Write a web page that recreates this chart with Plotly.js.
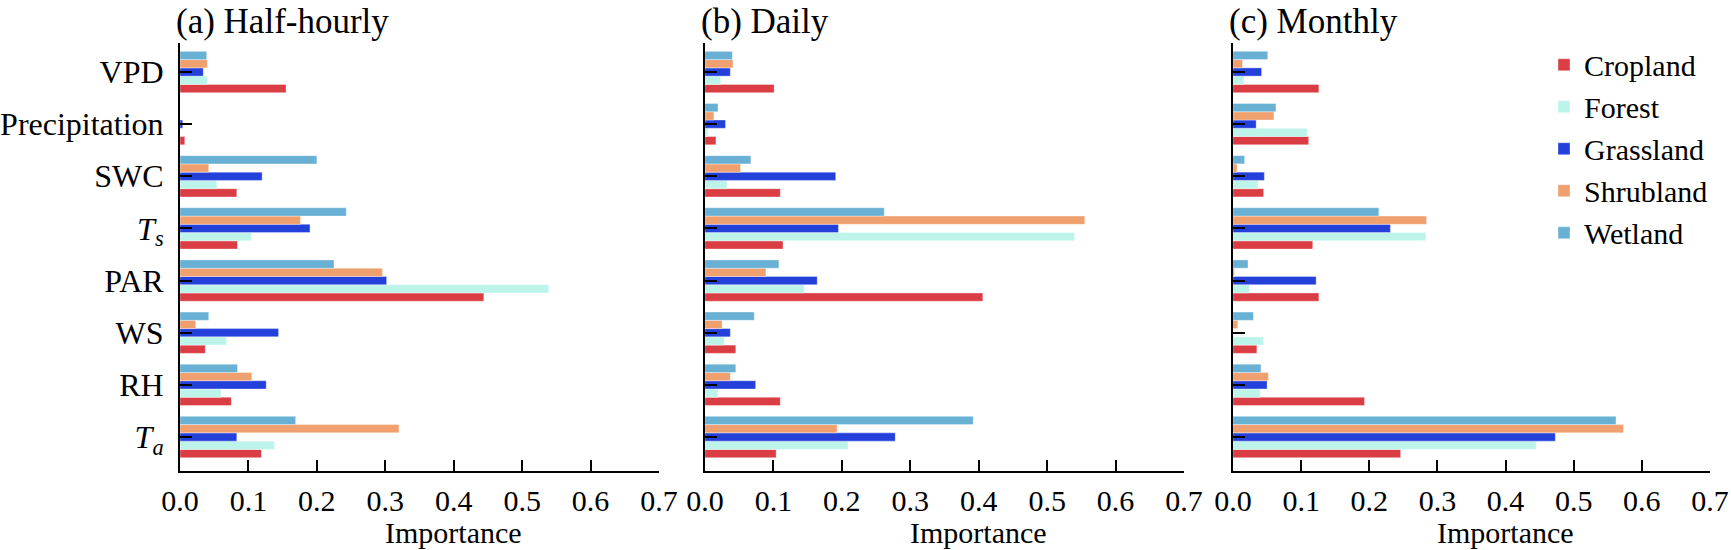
<!DOCTYPE html>
<html>
<head>
<meta charset="utf-8">
<script src="https://cdn.plot.ly/plotly-3.0.1.min.js"></script>
<style>
  html, body { margin: 0; padding: 0; background: #fff; }
  #chart { width: 1731px; height: 550px; }
</style>
</head>
<body>
<div id="chart"></div>
<script>
/* ── Data (categories bottom → top) ───────────────────────── */
const categories = ['Ta', 'RH', 'WS', 'PAR', 'Ts', 'SWC', 'Precipitation', 'VPD'];
const tickLabels = ['<i>T<sub>a</sub></i>', 'RH', 'WS', 'PAR', '<i>T<sub>s</sub></i>', 'SWC', 'Precipitation', 'VPD'];

const seriesNames  = ['Cropland', 'Forest', 'Grassland', 'Shrubland', 'Wetland'];
const seriesColors = ['#DB3D44', '#BDF4EA', '#2340DB', '#F0A06E', '#68B0D4'];

const panelTitles = ['(a) Half-hourly', '(b) Daily', '(c) Monthly'];

// (a) Half-hourly
const halfHourly = {
  Cropland:  [0.119, 0.075, 0.037, 0.444, 0.084, 0.083, 0.007, 0.155],
  Forest:    [0.138, 0.060, 0.068, 0.539, 0.104, 0.054, 0.000, 0.040],
  Grassland: [0.083, 0.126, 0.144, 0.302, 0.190, 0.120, 0.004, 0.034],
  Shrubland: [0.320, 0.105, 0.023, 0.296, 0.176, 0.042, 0.000, 0.040],
  Wetland:   [0.169, 0.084, 0.042, 0.225, 0.243, 0.200, 0.000, 0.039]
};
// (b) Daily
const daily = {
  Cropland:  [0.104, 0.110, 0.045, 0.406, 0.114, 0.110, 0.016, 0.101],
  Forest:    [0.209, 0.019, 0.028, 0.145, 0.540, 0.032, 0.004, 0.023],
  Grassland: [0.278, 0.074, 0.037, 0.164, 0.195, 0.191, 0.030, 0.037],
  Shrubland: [0.193, 0.037, 0.025, 0.089, 0.555, 0.052, 0.013, 0.041],
  Wetland:   [0.392, 0.045, 0.072, 0.108, 0.262, 0.067, 0.019, 0.040]
};
// (c) Monthly
const monthly = {
  Cropland:  [0.246, 0.193, 0.035, 0.126, 0.117, 0.045, 0.111, 0.126],
  Forest:    [0.445, 0.040, 0.045, 0.024, 0.283, 0.037, 0.109, 0.016],
  Grassland: [0.473, 0.050, 0.000, 0.122, 0.231, 0.046, 0.034, 0.042],
  Shrubland: [0.573, 0.052, 0.007, 0.002, 0.284, 0.006, 0.060, 0.014],
  Wetland:   [0.562, 0.041, 0.030, 0.022, 0.214, 0.017, 0.063, 0.051]
};
const panels = [halfHourly, daily, monthly];

/* ── Layout constants ─────────────────────────────────────── */
const W = 1731, H = 550;
const FONT = 'Liberation Serif, "Times New Roman", Times, serif';
const X_DOMAINS = [[180 / W, 659 / W], [705 / W, 1184 / W], [1233 / W, 1710 / W]];

function xAxis(i) {
  return {
    domain: X_DOMAINS[i], anchor: i ? 'y' + (i + 1) : 'y',
    range: [0, 0.7], tick0: 0, dtick: 0.1, tickformat: '.1f',
    ticks: 'inside', ticklen: 11, tickwidth: 2, tickcolor: '#000',
    ticklabelstandoff: 2,
    showline: true, linewidth: 2, linecolor: '#000',
    showgrid: false, zeroline: false,
    tickfont: { size: 30, color: '#000' },
    fixedrange: true
  };
}
function yAxis(i) {
  return {
    domain: [0, 1], anchor: i ? 'x' + (i + 1) : 'x',
    type: 'category', categoryorder: 'array', categoryarray: categories,
    range: [-0.652, 7.556],
    tickmode: 'array', tickvals: categories, ticktext: tickLabels,
    showticklabels: i === 0, ticklabelstandoff: 8,
    ticks: 'inside', ticklen: 12, tickwidth: 2, tickcolor: '#000',
    showline: true, linewidth: 2, linecolor: '#000',
    showgrid: false, zeroline: false,
    tickfont: { size: 32, color: '#000' },
    fixedrange: true
  };
}

/* ── Traces ───────────────────────────────────────────────── */
const traces = [];
panels.forEach((panel, i) => {
  seriesNames.forEach((name, k) => {
    traces.push({
      type: 'bar', orientation: 'h',
      x: panel[name], y: categories,
      name: name, legendgroup: name, showlegend: i === 2,
      xaxis: i ? 'x' + (i + 1) : 'x', yaxis: i ? 'y' + (i + 1) : 'y',
      marker: { color: seriesColors[k], line: { width: 0.6, color: 'rgba(255,255,255,0.6)' } },
      hovertemplate: `${name}<br>%{y}: %{x:.3f}<extra></extra>`
    });
  });
});

/* ── Panel titles and x-axis titles as annotations ────────── */
const annotations = [];
panelTitles.forEach((t, i) => {
  const [d0, d1] = X_DOMAINS[i];
  annotations.push({
    text: t, xref: 'paper', yref: 'paper',
    x: d0, y: 1, xanchor: 'left', yanchor: 'middle',
    xshift: -6, yshift: 22, showarrow: false,
    font: { size: 35, color: '#000' }
  });
  annotations.push({
    text: 'Importance', xref: 'paper', yref: 'paper',
    x: (d0 + d1) / 2, y: 0, xanchor: 'center', yanchor: 'middle',
    xshift: 34, yshift: -61, showarrow: false,
    font: { size: 30, color: '#000' }
  });
});

const layout = {
  width: W, height: H,
  font: { family: FONT, color: '#000' },
  paper_bgcolor: '#fff', plot_bgcolor: '#fff',
  margin: { l: 0, r: 0, t: 43, b: 79 },
  barmode: 'group', bargap: 0.208, bargroupgap: 0,
  showlegend: true,
  legend: {
    x: 1544 / W, xanchor: 'left', y: 1.01, yanchor: 'top',
    font: { size: 30, color: '#000' }, bgcolor: 'rgba(0,0,0,0)',
    traceorder: 'normal'
  },
  annotations: annotations
};
[0, 1, 2].forEach(i => {
  layout[i ? 'xaxis' + (i + 1) : 'xaxis'] = xAxis(i);
  layout[i ? 'yaxis' + (i + 1) : 'yaxis'] = yAxis(i);
});

Plotly.newPlot('chart', traces, layout, { displayModeBar: false, staticPlot: true });
</script>
</body>
</html>
